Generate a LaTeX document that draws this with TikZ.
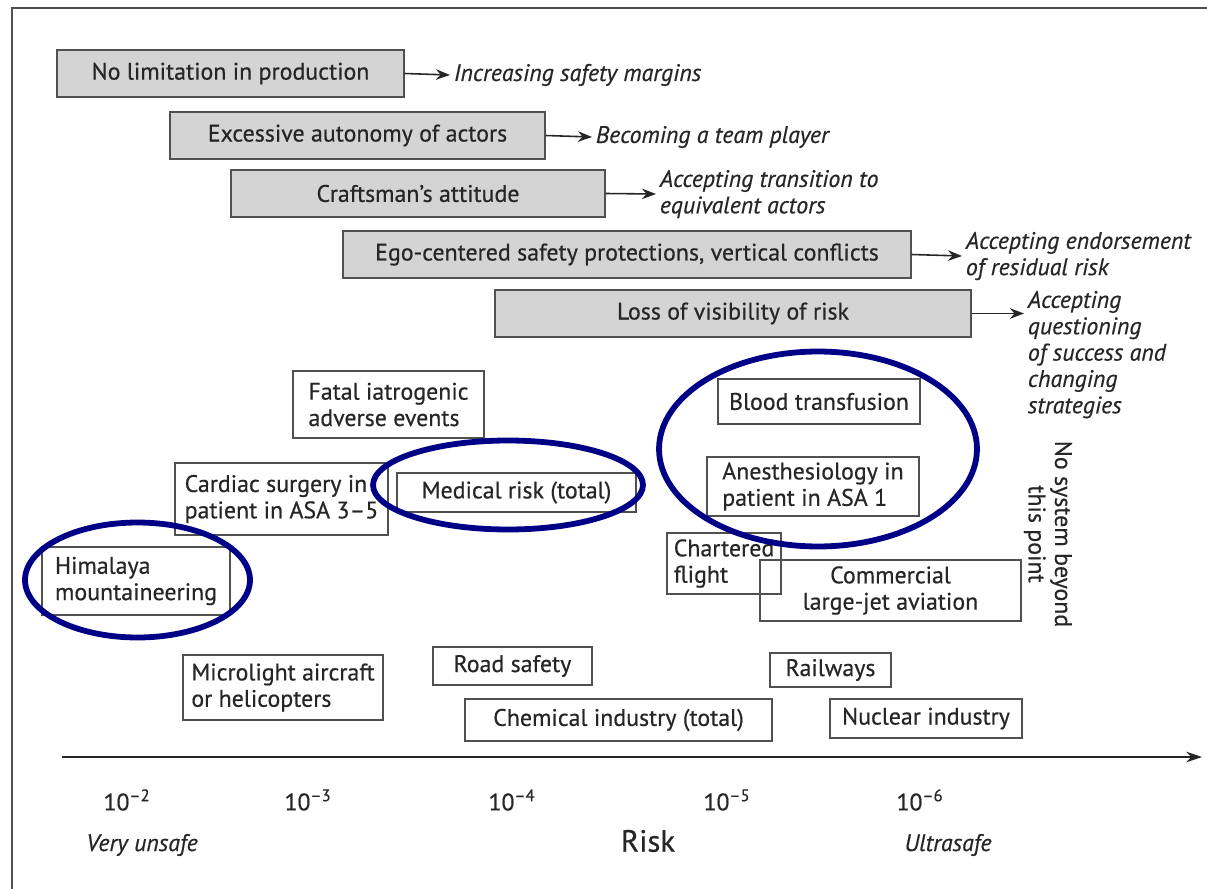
\documentclass[tikz,border=0pt]{standalone}
\usepackage{fontspec}
\setmainfont{PT Sans}[FakeBold=0.5]
\usetikzlibrary{arrows.meta,positioning}
\definecolor{ringcolor}{RGB}{0,0,135}
\definecolor{barcolor}{RGB}{212,212,212}
\definecolor{edgecolor}{RGB}{80,80,80}
\newcommand\boxfont{\fontsize{13.6}{15}\selectfont}

\begin{document}
\begin{tikzpicture}[
  x=0.02cm, y=-0.02cm,
  barrier/.style={
    draw=edgecolor,
    line width=0.8pt,
    fill=barcolor,
    minimum width=#1,
    minimum height=0.94cm,
    inner sep=0pt,
    text=black!85,
    font=\boxfont
  },
  site/.style 2 args={
    draw=edgecolor,
    line width=0.8pt,
    minimum width=#1,
    minimum height=#2,
    inner sep=0pt,
    align=left,
    text=black!85,
    font=\boxfont
  },
  remedy/.style={
    anchor=west,
    inner sep=2pt,
    align=left,
    text=black!85,
    font=\boxfont\itshape
  },
  push/.style={-{Stealth[length=8pt,width=6pt]}, line width=0.9pt, draw=black!85},
  ring/.style={draw=ringcolor, line width=3.3pt},
  tick/.style={text=black!85, font=\boxfont}
]

\useasboundingbox (0,0) rectangle (1207,889);
\clip (0,0) rectangle (1207,889);

% Frame
\draw[edgecolor, line width=1.2pt] (12,889) -- (12,8) -- (1207,8);

% Grey barriers
\node[barrier=6.94cm] (nolimit) at (230.5,73.5) {No limitation in production};
\node[barrier=7.50cm] (autonomy) at (357.5,135.5) {Excessive autonomy of actors};
\node[barrier=7.48cm] (craft) at (418,193.5) {Craftsman’s attitude};
\node[barrier=11.36cm] (ego) at (627,254.5) {Ego-centered safety protections, vertical conflicts};
\node[barrier=9.52cm] (visib) at (733,313.5) {Loss of visibility of risk};

% What it takes to cross each barrier
\node[remedy] (margins) at (450,75) {Increasing safety margins};
\node[remedy] (team) at (592,137) {Becoming a team player};
\node[remedy] (transition) at (656,194) {Accepting transition to\\equivalent actors};
\node[remedy] (endorse) at (962,256) {Accepting endorsement\\of residual risk};
\node[remedy, anchor=north west] (question) at (1024,287)
{Accepting\\questioning\\of success and\\changing\\strategies};

\draw[push] (nolimit.east) -- (margins.west);
\draw[push] (autonomy.east) -- (team.west);
\draw[push] (craft.east) -- (transition.west);
\draw[push] (ego.east) -- (endorse.west);
\draw[push] (visib.east) -- (visib.east -| question.west);

% Activities
\node[site={3.82cm}{1.34cm}] (fatal) at (388.5,404.5) {Fatal iatrogenic\\adverse events};
\node[site={4.04cm}{0.90cm}] (blood) at (819,401.5) {Blood transfusion};
\node[site={4.26cm}{1.44cm}] (cardiac) at (281.5,499) {Cardiac surgery in\\patient in ASA 3–5};
\node[site={4.78cm}{0.78cm}] (medical) at (516.5,492.5) {Medical risk (total)};
\node[site={4.24cm}{1.18cm}] (anesth) at (813,486.5) {Anesthesiology in\\patient in ASA 1};
\node[site={3.76cm}{1.36cm}] (himalaya) at (136,581) {Himalaya\\mountaineering};
\node[site={2.28cm}{1.22cm}] (charter) at (724,563.5) {Chartered\\flight};
\node[site={5.22cm}{1.22cm}, align=center] (jet) at (890.5,590.5) {Commercial\\large-jet aviation};
\node[site={4.00cm}{1.30cm}] (micro) at (283,687.5) {Microlight aircraft\\or helicopters};
\node[site={3.18cm}{0.76cm}] (road) at (512.5,666) {Road safety};
\node[site={6.14cm}{0.84cm}] (chem) at (618.5,720) {Chemical industry (total)};
\node[site={2.42cm}{0.68cm}] (rail) at (830.5,670) {Railways};
\node[site={3.84cm}{0.78cm}] (nuclear) at (926,718.5) {Nuclear industry};

% Limit
\node[rotate=-90, align=center, text=black!85, font=\boxfont] (beyond) at (1048,534)
{No system beyond\\this point};

% Highlight rings
\draw[ring] (137.5,580) ellipse [x radius=2.25cm, y radius=1.15cm];
\draw[ring] (508,485) ellipse [x radius=2.70cm, y radius=0.89cm];
\draw[ring] (818,449) ellipse [x radius=3.18cm, y radius=1.95cm];

% Risk axis
\coordinate (axstart) at (62,757);
\coordinate (axend) at (1202,757);
\draw[line width=1pt, draw=black!85, -{Stealth[length=9pt,width=6pt]}] (axstart) -- (axend);

\foreach \e/\x in {2/127,3/308,4/512,5/727,6/920}
  \node[tick] (t\e) at (\x,800) {10\textsuperscript{–\e}};

\node[tick, font=\boxfont\itshape] (unsafe) at (142,845) {Very unsafe};
\node[tick, font=\fontsize{17.5}{19}\selectfont] (risk) at (648,841) {Risk};
\node[tick, font=\boxfont\itshape] (ultra) at (948,845) {Ultrasafe};

\end{tikzpicture}
\end{document}
